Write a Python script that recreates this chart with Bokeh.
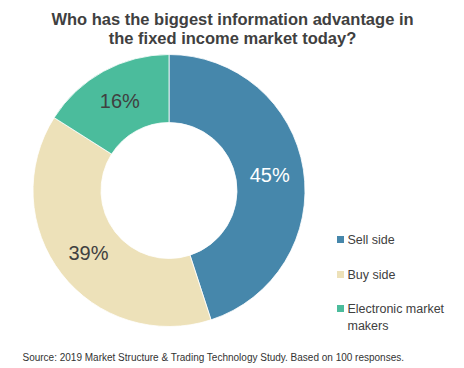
import math
from bokeh.plotting import figure
from bokeh.models import Range1d, ColumnDataSource
from bokeh.core.properties import value
from bokeh.embed import file_html
from bokeh.resources import INLINE

# ---- data ----
title_lines = ["Who has the biggest information advantage in",
               "the fixed income market today?"]
categories = ["Sell side", "Buy side", "Electronic market\nmakers"]
shares = [45, 39, 16]
colors = ["#4687AB", "#EDE1B9", "#4BBC9C"]
label_colors = ["#FFFFFF", "#404040", "#404040"]
source_note = "Source: 2019 Market Structure & Trading Technology Study. Based on 100 responses."

# ---- layout (page pixel coordinates; y_data = 368 - page_y) ----
W, H = 464, 368
def Y(py):
    return 368 - py

cx, cy = 168.5, Y(190)
r_out, r_in = 136, 68
FONT = value("Liberation Sans")

p = figure(width=W, height=H, output_backend="svg", toolbar_location=None,
           x_range=Range1d(0, 464), y_range=Range1d(0, 368),
           min_border=0, outline_line_color=None)
p.axis.visible = False
p.grid.visible = False
p.background_fill_color = "white"
p.border_fill_color = "white"

total = float(sum(shares))
starts, ends, mids = [], [], []
cum = 0.0
for s in shares:
    a0 = math.pi / 2 - 2 * math.pi * cum / total
    cum += s
    a1 = math.pi / 2 - 2 * math.pi * cum / total
    starts.append(a0)
    ends.append(a1)
    mids.append((a0 + a1) / 2)

src = ColumnDataSource(dict(x=[cx] * len(shares), y=[cy] * len(shares),
                            start=starts, end=ends, color=colors))
p.annular_wedge(x="x", y="y", inner_radius=r_in, outer_radius=r_out,
                start_angle="start", end_angle="end", direction="clock",
                fill_color="color", line_color="white", line_width=0.8, source=src)

r_lab = (r_in + r_out) / 2
lab = ColumnDataSource(dict(
    x=[cx + r_lab * math.cos(m) for m in mids],
    y=[cy + r_lab * math.sin(m) for m in mids],
    t=[f"{s}%" for s in shares], c=label_colors))
p.text(x="x", y="y", text="t", text_color="c", text_font=FONT,
       text_font_size="20px", text_align="center", text_baseline="middle", source=lab)

# title
p.text(x=[232, 232], y=[Y(18), Y(37)], text=title_lines, text_font=FONT,
       text_font_size="16.5px", text_font_style="bold", text_color="#404040",
       text_align="center", text_baseline="middle")

# legend
leg_y = [239, 274, 308]
p.scatter(x=[340] * 3, y=[Y(v) for v in leg_y], marker="square", size=7,
          fill_color=colors, line_color=None)
lx, ly, lt = [], [], []
for cat, yy in zip(categories, leg_y):
    for i, line in enumerate(cat.split("\n")):
        lx.append(347)
        ly.append(Y(yy + i * 17.5))
        lt.append(line)
p.text(x=lx, y=ly, text=lt, text_font=FONT, text_font_size="12.5px",
       text_color="#404040", text_align="left", text_baseline="middle")

# source note
p.text(x=[22], y=[Y(357)], text=[source_note], text_font=FONT,
       text_font_size="10px", text_color="#333333", text_align="left",
       text_baseline="middle")

open("out.html", "w").write(file_html(p, INLINE))
